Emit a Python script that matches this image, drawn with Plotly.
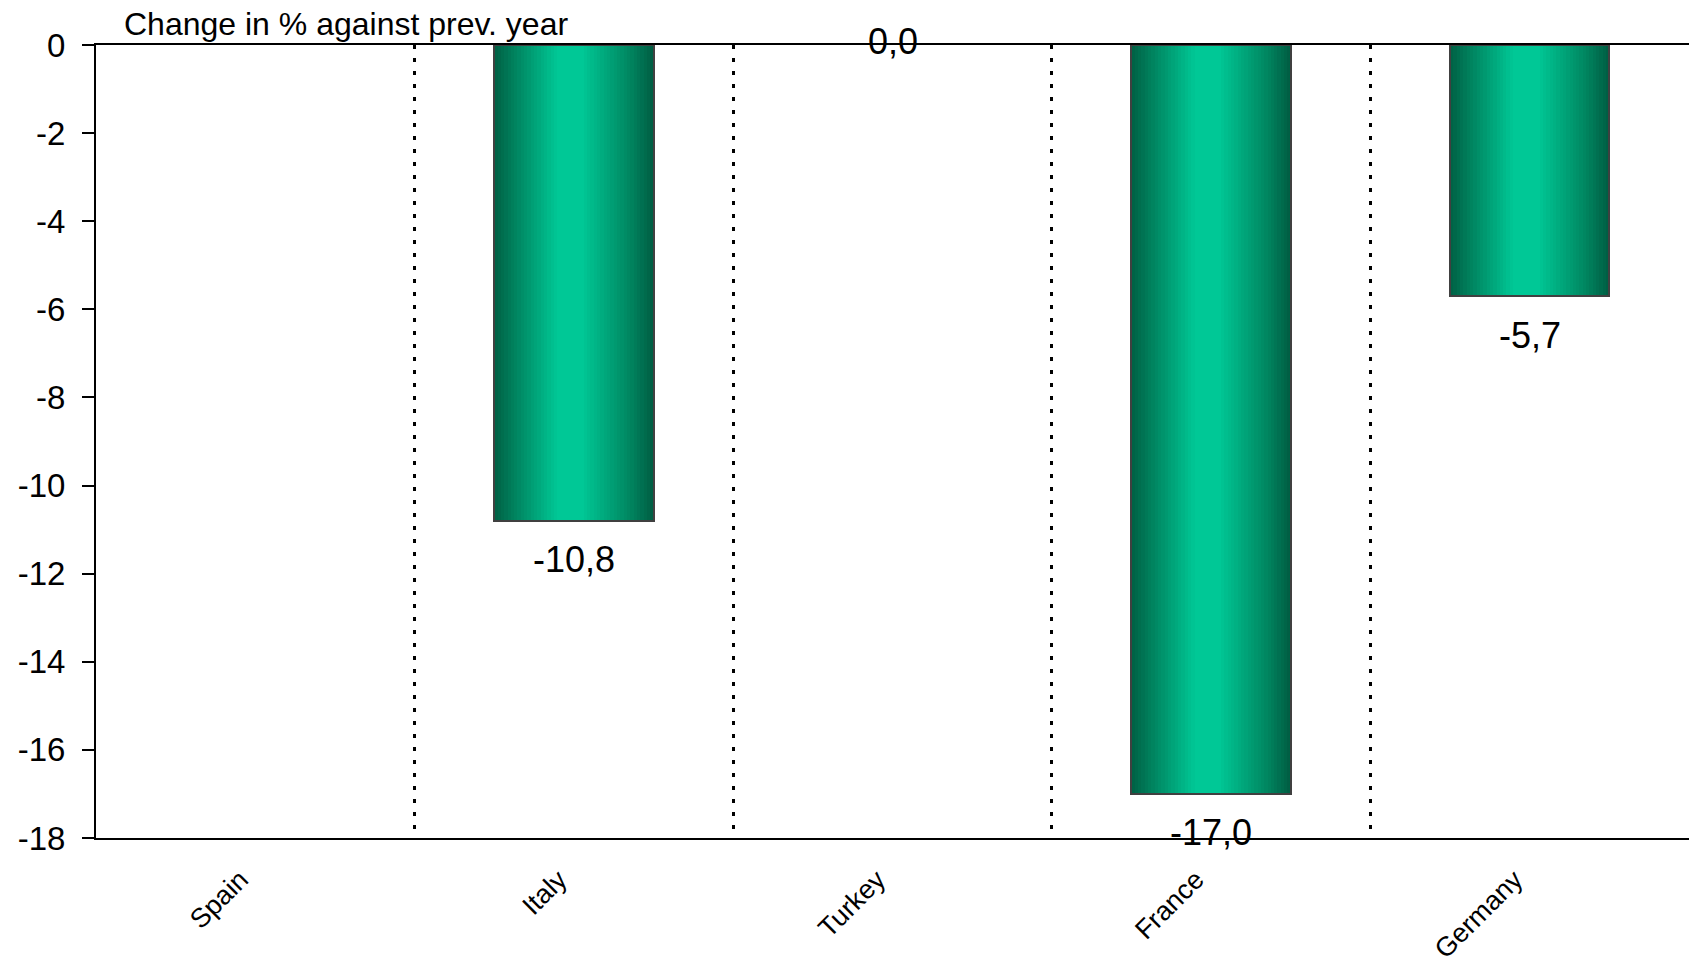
import plotly.graph_objects as go

categories = ["Spain", "Italy", "Turkey", "France", "Germany"]
values = [None, -10.8, 0.0, -17.0, -5.7]
value_labels = ["", "-10,8", "0,0", "-17,0", "-5,7"]
y_tick_vals = [0, -2, -4, -6, -8, -10, -12, -14, -16, -18]
axis_title = "Change in % against prev. year"

FONT = "Liberation Sans, Arial, sans-serif"
BAR_W = 0.5
N_SLICES = 48

# horizontal gradient stops (position, rgb)
stops = [
    (0.00, (0, 96, 68)),
    (0.12, (0, 128, 92)),
    (0.40, (0, 200, 150)),
    (0.55, (0, 200, 150)),
    (0.85, (0, 134, 96)),
    (1.00, (0, 92, 66)),
]


def grad_color(t):
    for (p0, c0), (p1, c1) in zip(stops[:-1], stops[1:]):
        if p0 <= t <= p1:
            f = (t - p0) / (p1 - p0) if p1 > p0 else 0
            c = [round(a + (b - a) * f) for a, b in zip(c0, c1)]
            return f"rgb({c[0]},{c[1]},{c[2]})"
    return f"rgb{stops[-1][1]}"


# zero-height bars draw nothing (avoid an outline stroke on the axis)
bar_values = [None if (v is None or v == 0) else v for v in values]

fig = go.Figure()
step = BAR_W / N_SLICES
for i in range(N_SLICES):
    t = (i + 0.5) / N_SLICES
    fig.add_trace(go.Bar(
        x=categories, y=bar_values,
        width=step * 1.15, offset=-BAR_W / 2 + i * step,
        marker=dict(color=grad_color(t), line=dict(width=0)),
        hoverinfo="skip", showlegend=False,
    ))

# outline
fig.add_trace(go.Bar(
    x=categories, y=bar_values, width=BAR_W, offset=-BAR_W / 2,
    marker=dict(color="rgba(0,0,0,0)", line=dict(color="#404040", width=2)),
    showlegend=False, hoverinfo="x+y",
))

# value labels
for c, v, lab in zip(categories, values, value_labels):
    if v is None:
        continue
    fig.add_annotation(
        x=c, y=v, text=lab, showarrow=False,
        xanchor="center", yanchor="middle",
        yshift=(4 if v == 0 else -39),
        font=dict(family=FONT, size=36, color="black"),
    )

fig.add_annotation(
    xref="paper", yref="paper", x=0.0163, y=1.0,
    xanchor="left", yanchor="bottom", text=axis_title, showarrow=False,
    font=dict(family=FONT, size=32, color="black"), yshift=1,
)

fig.update_layout(
    width=1689, height=963, autosize=False,
    margin=dict(l=96, r=0, t=45, b=125),
    paper_bgcolor="white", plot_bgcolor="white",
    barmode="overlay", bargap=0,
    font=dict(family=FONT, color="black"),
    separators=", ",
    xaxis=dict(
        type="category", categoryorder="array", categoryarray=categories,
        range=[-0.5, len(categories) - 0.5],
        showline=True, linecolor="black", linewidth=2, mirror=True,
        showgrid=True, tickson="boundaries", gridcolor="black",
        griddash="4px,9px", gridwidth=2.5,
        ticks="", tickangle=-45, ticklabelstandoff=13, ticklabelshift=-15,
        tickfont=dict(family=FONT, size=27, color="black"),
        zeroline=False, automargin=False,
    ),
    yaxis=dict(
        range=[-18, 0], tickvals=y_tick_vals,
        ticktext=[str(v) for v in y_tick_vals],
        showline=True, linecolor="black", linewidth=2,
        ticks="outside", ticklen=12, tickwidth=2, tickcolor="black",
        ticklabelstandoff=10,
        tickfont=dict(family=FONT, size=33, color="black"),
        showgrid=False, zeroline=False, automargin=False,
    ),
)

fig.write_html(
    "out.html",
    config={"displayModeBar": False},
    post_script="document.body.style.margin='0'; document.documentElement.style.overflow='hidden';",
)
